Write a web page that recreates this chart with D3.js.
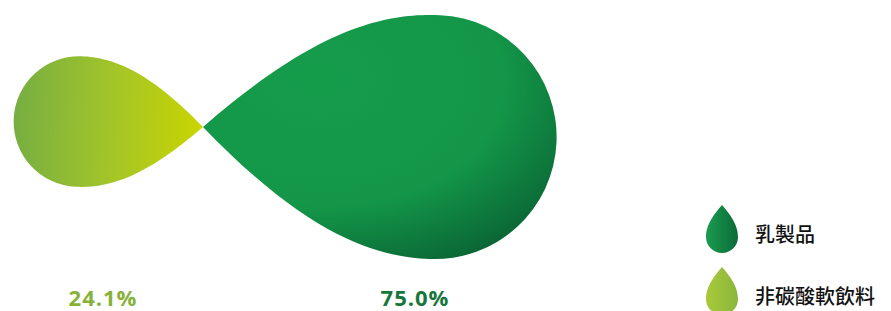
<!DOCTYPE html>
<html>
<head>
<meta charset="utf-8">
<script src="https://cdn.jsdelivr.net/npm/d3@7"></script>
<style>
  body { margin: 0; background: #fff; }
  svg { display: block; }
</style>
</head>
<body>
<div id="chart"></div>
<script>
// data
var categories = ["非碳酸軟飲料", "乳製品"];
var shares = [24.1, 75.0];
var labels = ["24.1%", "75.0%"];
var legendOrder = ["乳製品", "非碳酸軟飲料"];

var width = 891, height = 311;
var tipX = 203, tipY = 127;

var svg = d3.select("#chart").append("svg")
    .attr("width", width)
    .attr("height", height);

var defs = svg.append("defs");

// yellow-green for the small drop
var g1 = defs.append("linearGradient").attr("id", "gLime")
    .attr("x1", 0).attr("x2", 1).attr("y1", 0).attr("y2", 0);
g1.append("stop").attr("offset", "0%").attr("stop-color", "#76ae42");
g1.append("stop").attr("offset", "50%").attr("stop-color", "#a2c42a");
g1.append("stop").attr("offset", "100%").attr("stop-color", "#c9d500");

// green for the big drop, darker toward the lower right
var g2 = defs.append("radialGradient").attr("id", "gGreen")
    .attr("cx", "32%").attr("cy", "28%").attr("r", "85%");
g2.append("stop").attr("offset", "0%").attr("stop-color", "#159c4b");
g2.append("stop").attr("offset", "62%").attr("stop-color", "#139648");
g2.append("stop").attr("offset", "100%").attr("stop-color", "#0a6334");

// legend icon gradients
var g3 = defs.append("linearGradient").attr("id", "lGreen")
    .attr("x1", 0).attr("x2", 0).attr("y1", 0).attr("y2", 1);
g3.append("stop").attr("offset", "0%").attr("stop-color", "#1a9c50");
g3.append("stop").attr("offset", "100%").attr("stop-color", "#0b6a38");
var g4 = defs.append("linearGradient").attr("id", "lLime")
    .attr("x1", 0).attr("x2", 0).attr("y1", 0).attr("y2", 1);
g4.append("stop").attr("offset", "0%").attr("stop-color", "#a9c93a");
g4.append("stop").attr("offset", "100%").attr("stop-color", "#8ab63c");

var fills = { "乳製品": "url(#gGreen)", "非碳酸軟飲料": "url(#gLime)" };
var legendFills = { "乳製品": "url(#lGreen)", "非碳酸軟飲料": "url(#lLime)" };
var textColors = ["#86b23a", "#17763c"];

var rScale = d3.scalePow().exponent(0.55).domain([0, 75]).range([0, 122]);

// teardrop, circle centre at origin, tip at (s*d, 0)
function drop(r, d, s) {
    var p = d3.path();
    p.moveTo(s * d, 0);
    p.bezierCurveTo(s * 0.53 * d, -r * 0.85, s * 0.45 * r, -r, 0, -r);
    p.arc(0, 0, r, -Math.PI / 2, Math.PI / 2, s > 0);
    p.bezierCurveTo(s * 0.45 * r, r, s * 0.53 * d, r * 0.85, s * d, 0);
    p.closePath();
    return p.toString();
}

var drops = svg.append("g")
    .attr("transform", "translate(" + tipX + "," + tipY + ") rotate(2.5)");

drops.selectAll(".drop")
    .data(categories)
    .enter()
    .append("path")
    .attr("class", "drop")
    .attr("transform", function (d, i) {
        var r = rScale(shares[i]);
        var dist = 1.9 * r;
        return "translate(" + (i === 0 ? -dist : dist) + ",0)";
    })
    .attr("d", function (d, i) {
        var r = rScale(shares[i]);
        // small one sits left pointing right, big one sits right pointing left
        return drop(r, 1.9 * r, i === 0 ? 1 : -1);
    })
    .attr("fill", function (d) { return fills[d]; });

// percentage labels
var labelX = [103, 415];
svg.selectAll(".pct")
    .data(labels)
    .enter()
    .append("text")
    .attr("class", "pct")
    .attr("x", function (d, i) { return labelX[i]; })
    .attr("y", 306)
    .attr("text-anchor", "middle")
    .attr("font-family", "'Open Sans', sans-serif")
    .attr("font-weight", "bold")
    .attr("font-size", "22px")
    .attr("letter-spacing", "1px")
    .attr("fill", function (d, i) { return textColors[i]; })
    .text(function (d) { return d; });

// legend
var legend = svg.selectAll(".legend")
    .data(legendOrder)
    .enter()
    .append("g")
    .attr("class", "legend")
    .attr("transform", function (d, i) { return "translate(722," + (237 + i * 62) + ")"; });

legend.append("path")
    .attr("d", drop(16, 32, 1))
    .attr("transform", "rotate(-90)")
    .attr("fill", function (d) { return legendFills[d]; });

legend.append("text")
    .attr("x", 33)
    .attr("y", 5)
    .attr("font-family", "'Noto Sans CJK TC', sans-serif")
    .attr("font-weight", 500)
    .attr("font-size", "20px")
    .attr("fill", "#111")
    .text(function (d) { return d; });
</script>
</body>
</html>
